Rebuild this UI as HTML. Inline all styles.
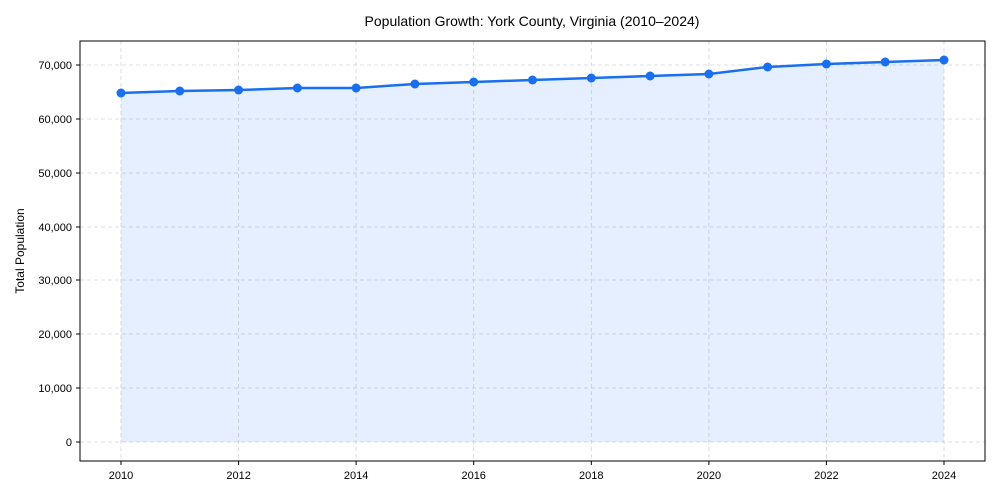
<!DOCTYPE html>
<html><head><meta charset="utf-8"><style>body{margin:0;background:#fff}svg{display:block}text{font-family:"Liberation Sans",sans-serif;fill:#000}</style></head><body>
<svg width="1000" height="500" viewBox="0 0 1000 500">
<text x="532" y="26" font-size="14" text-anchor="middle">Population Growth: York County, Virginia (2010–2024)</text>
<g stroke="#d0d5dd" stroke-dasharray="4,3" stroke-width="0.8">
<line x1="80" x2="985" y1="442" y2="442"/><line x1="80" x2="985" y1="388" y2="388"/><line x1="80" x2="985" y1="334" y2="334"/><line x1="80" x2="985" y1="280" y2="280"/><line x1="80" x2="985" y1="227" y2="227"/><line x1="80" x2="985" y1="173" y2="173"/><line x1="80" x2="985" y1="119" y2="119"/><line x1="80" x2="985" y1="65" y2="65"/>
<line y1="41" y2="461" x1="121" x2="121"/><line y1="41" y2="461" x1="238.6" x2="238.6"/><line y1="41" y2="461" x1="356.1" x2="356.1"/><line y1="41" y2="461" x1="473.7" x2="473.7"/><line y1="41" y2="461" x1="591.3" x2="591.3"/><line y1="41" y2="461" x1="708.9" x2="708.9"/><line y1="41" y2="461" x1="826.4" x2="826.4"/><line y1="41" y2="461" x1="944" x2="944"/>
</g>
<polygon fill="#1f6fff" fill-opacity="0.11" points="121,442 121,93 179.8,91 238.6,90 297.4,88 356.1,88 414.9,84 473.7,82 532.5,80 591.3,78 650.1,76 708.9,74 767.6,67 826.4,64 885.2,62 944,60 944,442"/>
<polyline fill="none" stroke="#1a6ff0" stroke-width="2.5" points="121,93 179.8,91 238.6,90 297.4,88 356.1,88 414.9,84 473.7,82 532.5,80 591.3,78 650.1,76 708.9,74 767.6,67 826.4,64 885.2,62 944,60"/>
<g fill="#1a6ff0"><circle cx="121" cy="93" r="4.5"/><circle cx="179.8" cy="91" r="4.5"/><circle cx="238.6" cy="90" r="4.5"/><circle cx="297.4" cy="88" r="4.5"/><circle cx="356.1" cy="88" r="4.5"/><circle cx="414.9" cy="84" r="4.5"/><circle cx="473.7" cy="82" r="4.5"/><circle cx="532.5" cy="80" r="4.5"/><circle cx="591.3" cy="78" r="4.5"/><circle cx="650.1" cy="76" r="4.5"/><circle cx="708.9" cy="74" r="4.5"/><circle cx="767.6" cy="67" r="4.5"/><circle cx="826.4" cy="64" r="4.5"/><circle cx="885.2" cy="62" r="4.5"/><circle cx="944" cy="60" r="4.5"/></g>
<rect x="80" y="41" width="905" height="420" fill="none" stroke="#000" stroke-width="1"/>
<g stroke="#000"><line x1="76" x2="80" y1="442" y2="442"/><line x1="76" x2="80" y1="388" y2="388"/><line x1="76" x2="80" y1="334" y2="334"/><line x1="76" x2="80" y1="280" y2="280"/><line x1="76" x2="80" y1="227" y2="227"/><line x1="76" x2="80" y1="173" y2="173"/><line x1="76" x2="80" y1="119" y2="119"/><line x1="76" x2="80" y1="65" y2="65"/>
<line y1="461" y2="465" x1="121" x2="121"/><line y1="461" y2="465" x1="238.6" x2="238.6"/><line y1="461" y2="465" x1="356.1" x2="356.1"/><line y1="461" y2="465" x1="473.7" x2="473.7"/><line y1="461" y2="465" x1="591.3" x2="591.3"/><line y1="461" y2="465" x1="708.9" x2="708.9"/><line y1="461" y2="465" x1="826.4" x2="826.4"/><line y1="461" y2="465" x1="944" x2="944"/></g>
<g font-size="11" text-anchor="end"><text x="72" y="446">0</text><text x="72" y="392">10,000</text><text x="72" y="338">20,000</text><text x="72" y="284">30,000</text><text x="72" y="231">40,000</text><text x="72" y="177">50,000</text><text x="72" y="123">60,000</text><text x="72" y="69">70,000</text></g>
<g font-size="11" text-anchor="middle"><text x="121" y="479">2010</text><text x="238.6" y="479">2012</text><text x="356.1" y="479">2014</text><text x="473.7" y="479">2016</text><text x="591.3" y="479">2018</text><text x="708.9" y="479">2020</text><text x="826.4" y="479">2022</text><text x="944" y="479">2024</text></g>
<text transform="translate(24,251) rotate(-90)" font-size="12" text-anchor="middle">Total Population</text>
</svg></body></html>
